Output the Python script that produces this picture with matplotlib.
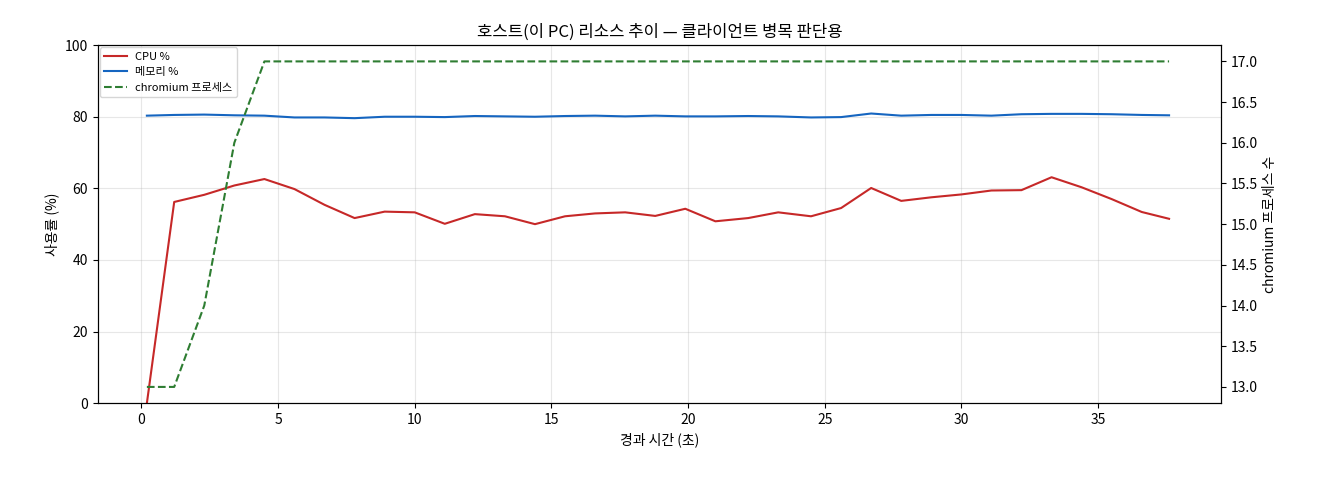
import matplotlib
matplotlib.use("Agg")
import matplotlib.pyplot as plt

plt.rcParams['font.family'] = ['Noto Sans CJK KR', 'DejaVu Sans']

elapsed = [0.2, 1.2, 2.3, 3.4, 4.5, 5.6, 6.7, 7.8, 8.9, 10.0, 11.1, 12.2, 13.3, 14.4,
           15.5, 16.6, 17.7, 18.8, 19.9, 21.0, 22.2, 23.3, 24.5, 25.6, 26.7, 27.8, 28.9,
           30.0, 31.1, 32.2, 33.3, 34.4, 35.5, 36.6, 37.6]
cpu = [0, 56.2, 58.2, 60.8, 62.6, 59.8, 55.4, 51.7, 53.5, 53.3, 50.1, 52.8, 52.2, 50.0,
       52.2, 53.0, 53.3, 52.3, 54.3, 50.8, 51.7, 53.3, 52.2, 54.5, 60.1, 56.5, 57.5,
       58.3, 59.4, 59.5, 63.1, 60.3, 57.0, 53.4, 51.5]
mem = [80.3, 80.5, 80.6, 80.4, 80.3, 79.8, 79.8, 79.6, 80.0, 80.0, 79.9, 80.2, 80.1, 80.0,
       80.2, 80.3, 80.1, 80.3, 80.1, 80.1, 80.2, 80.1, 79.8, 79.9, 80.9, 80.3, 80.5,
       80.5, 80.3, 80.7, 80.8, 80.8, 80.7, 80.5, 80.4]
procs = [13, 13, 14, 16, 17, 17, 17, 17, 17, 17, 17, 17, 17, 17, 17, 17, 17, 17, 17, 17,
         17, 17, 17, 17, 17, 17, 17, 17, 17, 17, 17, 17, 17, 17, 17]

fig, ax = plt.subplots(figsize=(13.2, 4.8), dpi=100)
l1, = ax.plot(elapsed, cpu, color='#c62828', lw=1.5, label='CPU %')
l2, = ax.plot(elapsed, mem, color='#1565c0', lw=1.5, label='메모리 %')
ax.set_ylim(0, 100)
ax.set_xlim(-1.6, 39.5)
ax.grid(True, alpha=0.3)
ax.set_xlabel('경과 시간 (초)')
ax.set_ylabel('사용률 (%)')
ax2 = ax.twinx()
l3, = ax2.plot(elapsed, procs, color='#2e7d32', lw=1.5, ls='--', label='chromium 프로세스')
ax2.set_ylim(12.8, 17.2)
ax2.set_ylabel('chromium 프로세스 수')
ax.set_title('호스트(이 PC) 리소스 추이 — 클라이언트 병목 판단용')
ax.legend(handles=[l1, l2, l3], loc='upper left', fontsize=8, borderaxespad=0.2)
fig.subplots_adjust(left=0.074, right=0.925, top=0.906, bottom=0.16)
fig.savefig('out.png')
